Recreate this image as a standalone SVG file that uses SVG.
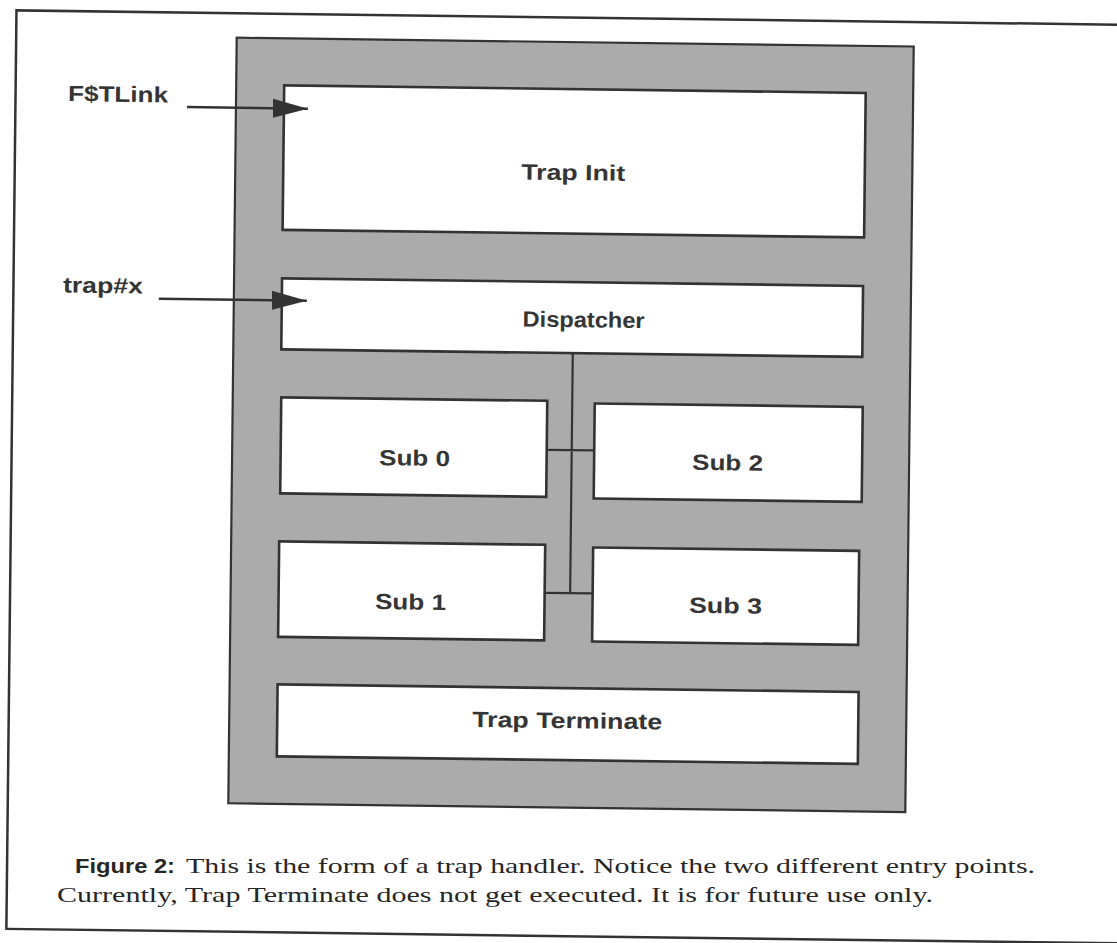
<svg xmlns="http://www.w3.org/2000/svg" width="1117" height="943" viewBox="0 0 1117 943">
<defs>
<style>
.frame{fill:none;stroke:#333;stroke-width:2.5}
.panel{fill:#ababab;stroke:#333;stroke-width:2.2}
.box{fill:#fff;stroke:#333;stroke-width:2.6}
.lbl{font-family:"Liberation Sans",Arial,sans-serif;font-weight:bold;font-size:22px;fill:#353535;text-anchor:middle}
.side{font-family:"Liberation Sans",Arial,sans-serif;font-weight:bold;font-size:22px;fill:#353535}
.cap{font-family:"Liberation Serif","Times New Roman",serif;font-size:22px;fill:#262626}
.capb{font-family:"Liberation Sans",Arial,sans-serif;font-weight:bold;font-size:20px;fill:#262626}
.conn{fill:none;stroke:#333;stroke-width:2.2}
.arrow{fill:none;stroke:#333;stroke-width:2.5}
</style>
<marker id="head" markerUnits="userSpaceOnUse" markerWidth="36" markerHeight="20" refX="35" refY="10" orient="auto">
<path d="M0,0.5 L35,10 L0,19.5 Z" fill="#333"/>
</marker>
</defs>
<rect x="0" y="0" width="1117" height="943" fill="#fff"/>
<g transform="matrix(1,0.013,-0.011,1,5.17,-7.28)">
<rect class="frame" x="11.5" y="17.5" width="1140" height="918.5"/>
<g id="panel"><rect class="panel" x="232" y="42" width="677" height="765.5"/></g>
<g id="trap-init"><rect class="box" x="280" y="89" width="581.5" height="144.5"/><text class="lbl" x="570" y="180" textLength="104" lengthAdjust="spacingAndGlyphs">Trap Init</text></g>
<g id="dispatcher"><rect class="box" x="280" y="282" width="581" height="71"/><text class="lbl" x="582" y="327" textLength="122" lengthAdjust="spacingAndGlyphs">Dispatcher</text></g>
<g id="sub0"><rect class="box" x="280.5" y="401" width="266" height="96"/><text class="lbl" x="414.5" y="467.5" textLength="71" lengthAdjust="spacingAndGlyphs">Sub 0</text></g>
<g id="sub2"><rect class="box" x="594" y="403" width="268" height="95"/><text class="lbl" x="727.5" y="468" textLength="71" lengthAdjust="spacingAndGlyphs">Sub 2</text></g>
<g id="sub1"><rect class="box" x="280" y="545" width="266" height="95.5"/><text class="lbl" x="412" y="611.5" textLength="71" lengthAdjust="spacingAndGlyphs">Sub 1</text></g>
<g id="sub3"><rect class="box" x="594" y="547" width="266" height="94"/><text class="lbl" x="727" y="611" textLength="73" lengthAdjust="spacingAndGlyphs">Sub 3</text></g>
<g id="trap-terminate"><rect class="box" x="280" y="688" width="581" height="72"/><text class="lbl" x="570" y="728" textLength="190" lengthAdjust="spacingAndGlyphs">Trap Terminate</text></g>
<g id="connectors">
<path class="conn" d="M571.5,353 V593 M546.5,450 H594 M546,593 H594"/>
<path class="arrow" d="M183,112 H304" marker-end="url(#head)"/>
<path class="arrow" d="M157,304 H305" marker-end="url(#head)"/>
</g>
<g id="entry-labels">
<text class="side" x="64" y="107.5" textLength="100" lengthAdjust="spacingAndGlyphs">F$TLink</text>
<text class="side" x="61" y="299" textLength="80" lengthAdjust="spacingAndGlyphs">trap#x</text>
</g>
</g>
<g id="caption">
<text class="capb" x="75" y="873" textLength="100" lengthAdjust="spacingAndGlyphs">Figure 2:</text>
<text class="cap" x="186" y="873" textLength="849" lengthAdjust="spacingAndGlyphs">This is the form of a trap handler.  Notice the two different entry points.</text>
<text class="cap" x="57" y="902" textLength="876" lengthAdjust="spacingAndGlyphs">Currently, Trap Terminate does not get executed.  It is for future use only.</text>
</g>
</svg>
